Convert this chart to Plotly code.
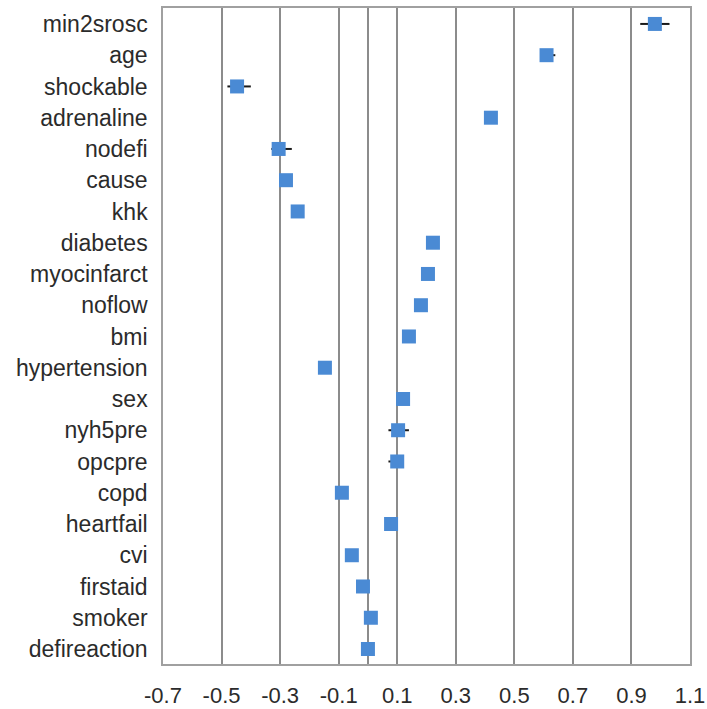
import plotly.graph_objects as go

variables = ["min2srosc", "age", "shockable", "adrenaline", "nodefi", "cause", "khk",
             "diabetes", "myocinfarct", "noflow", "bmi", "hypertension", "sex", "nyh5pre",
             "opcpre", "copd", "heartfail", "cvi", "firstaid", "smoker", "defireaction"]
estimate = [0.98, 0.61, -0.447, 0.42, -0.305, -0.28, -0.24,
            0.222, 0.205, 0.181, 0.14, -0.147, 0.12, 0.103,
            0.10, -0.089, 0.079, -0.055, -0.017, 0.01, 0.0]
ci_low = [0.93, 0.59, -0.48, 0.40, -0.33, -0.30, -0.26,
          0.20, 0.185, 0.16, 0.12, -0.165, 0.10, 0.07,
          0.07, -0.11, 0.06, -0.075, -0.035, -0.01, -0.02]
ci_high = [1.03, 0.64, -0.40, 0.44, -0.26, -0.26, -0.22,
           0.24, 0.225, 0.20, 0.16, -0.13, 0.14, 0.14,
           0.12, -0.07, 0.10, -0.035, 0.0, 0.03, 0.02]
x_ticks = [-0.7, -0.5, -0.3, -0.1, 0.1, 0.3, 0.5, 0.7, 0.9, 1.1]
x_tick_text = ["-0.7", "-0.5", "-0.3", "-0.1", "0.1", "0.3", "0.5", "0.7", "0.9", "1.1"]

err_plus = [h - e for h, e in zip(ci_high, estimate)]
err_minus = [e - l for e, l in zip(estimate, ci_low)]

fig = go.Figure()
fig.add_trace(go.Scatter(
    x=estimate, y=variables, mode="markers",
    marker=dict(symbol="square", size=14, color="#4A8AD4"),
    error_x=dict(type="data", symmetric=False, array=err_plus, arrayminus=err_minus,
                 color="#1a1a1a", thickness=2, width=0),
    showlegend=False,
))

fig.update_layout(
    width=707, height=709,
    margin=dict(l=163, r=17, t=8, b=45),
    paper_bgcolor="white", plot_bgcolor="white",
    font=dict(family="Liberation Sans, Arial, sans-serif", size=23, color="#2b2b2b"),
)
fig.update_xaxes(
    range=[-0.7, 1.1], tickvals=x_ticks, ticktext=x_tick_text,
    tickfont=dict(size=22),
    showgrid=True, gridcolor="#8c8c8c", gridwidth=1.5,
    zeroline=True, zerolinecolor="#8c8c8c", zerolinewidth=1.5,
    showline=True, linecolor="#a0a0a0", linewidth=1.5, mirror=True,
    ticks="", ticklabelstandoff=11, automargin=False,
)
fig.update_yaxes(
    type="category", categoryorder="array", categoryarray=variables,
    range=[20.48, -0.51],
    showgrid=False, zeroline=False,
    showline=True, linecolor="#a0a0a0", linewidth=1.5, mirror=True,
    ticks="", ticklabelstandoff=9, automargin=False,
)

fig.write_html(
    "out.html",
    config={"displayModeBar": False},
    post_script="document.body.style.margin='0';document.body.style.overflow='hidden';",
)
